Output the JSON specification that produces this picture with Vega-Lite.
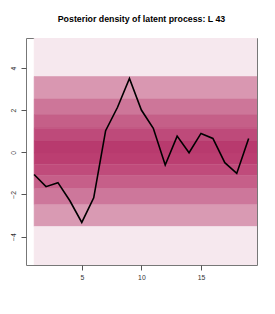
{
  "$schema": "https://vega.github.io/schema/vega-lite/v6.json",
  "width": 231,
  "height": 227,
  "autosize": "none",
  "padding": {"left": 26, "top": 38, "right": 18, "bottom": 49},
  "background": "white",
  "config": {"view": {"stroke": "#777", "strokeWidth": 1}, "font": "Liberation Sans"},
  "title": {"text": "Posterior density of latent process: L 43", "fontSize": 8.8, "fontWeight": "bold", "font": "Liberation Sans", "color": "#000", "offset": 14},
  "datasets": {
    "bands": [
      {"band": 1, "lo": 3.6, "hi": 6},
      {"band": 2, "lo": 2.53, "hi": 3.6},
      {"band": 3, "lo": 1.79, "hi": 2.53},
      {"band": 4, "lo": 1.15, "hi": 1.79},
      {"band": 5, "lo": 0.55, "hi": 1.15},
      {"band": 6, "lo": -0.03, "hi": 0.55},
      {"band": 7, "lo": -0.56, "hi": -0.03},
      {"band": 8, "lo": -1.09, "hi": -0.56},
      {"band": 9, "lo": -1.73, "hi": -1.09},
      {"band": 10, "lo": -2.49, "hi": -1.73},
      {"band": 11, "lo": -3.52, "hi": -2.49},
      {"band": 12, "lo": -6, "hi": -3.52}
    ],
    "latent": [
      {"t": 1, "v": -1.05}, {"t": 2, "v": -1.63}, {"t": 3, "v": -1.44}, {"t": 4, "v": -2.3},
      {"t": 5, "v": -3.33}, {"t": 6, "v": -2.16}, {"t": 7, "v": 1.03}, {"t": 8, "v": 2.14},
      {"t": 9, "v": 3.51}, {"t": 10, "v": 2.01}, {"t": 11, "v": 1.14}, {"t": 12, "v": -0.6},
      {"t": 13, "v": 0.77}, {"t": 14, "v": -0.02}, {"t": 15, "v": 0.9}, {"t": 16, "v": 0.66},
      {"t": 17, "v": -0.49}, {"t": 18, "v": -1.0}, {"t": 19, "v": 0.66}
    ]
  },
  "layer": [
    {
      "data": {"name": "bands"},
      "mark": {"type": "rect", "clip": true, "strokeWidth": 0.6},
      "encoding": {
        "x": {"datum": 1, "type": "quantitative", "scale": {"domain": [0.32, 19.7], "nice": false, "zero": false},
          "axis": {"values": [5, 10, 15], "domain": false, "grid": false, "tickSize": 5, "tickColor": "#555", "labelFontSize": 6.8, "labelColor": "#333", "labelPadding": 4, "title": null, "labelFont": "Liberation Sans"}},
        "x2": {"datum": 21},
        "y": {"field": "lo", "type": "quantitative", "scale": {"domain": [-5.35, 5.43], "nice": false, "zero": false},
          "axis": {"values": [-4, -2, 0, 2, 4], "domain": false, "grid": false, "tickSize": 5, "tickColor": "#555", "labelFontSize": 6.8, "labelColor": "#333", "labelPadding": 5, "labelAngle": -90, "labelAlign": "center", "labelBaseline": "bottom", "title": null, "labelFont": "Liberation Sans"}},
        "y2": {"field": "hi"},
        "color": {"field": "band", "type": "ordinal", "legend": null,
          "scale": {"domain": [1,2,3,4,5,6,7,8,9,10,11,12],
            "range": ["#f6e8ee", "#d997b1", "#cd7699", "#c55f88", "#be4a7a", "#b83a6e", "#bb3e71", "#c04b7b", "#c65f89", "#cd779b", "#d99ab3", "#f6e8ee"]}},
        "stroke": {"field": "band", "type": "ordinal", "legend": null,
          "scale": {"domain": [1,2,3,4,5,6,7,8,9,10,11,12],
            "range": ["#f6e8ee", "#d997b1", "#cd7699", "#c55f88", "#be4a7a", "#b83a6e", "#bb3e71", "#c04b7b", "#c65f89", "#cd779b", "#d99ab3", "#f6e8ee"]}}
      }
    },
    {
      "data": {"name": "latent"},
      "mark": {"type": "line", "color": "#000", "strokeWidth": 1.6, "clip": true},
      "encoding": {
        "x": {"field": "t", "type": "quantitative"},
        "y": {"field": "v", "type": "quantitative"}
      }
    }
  ]
}
